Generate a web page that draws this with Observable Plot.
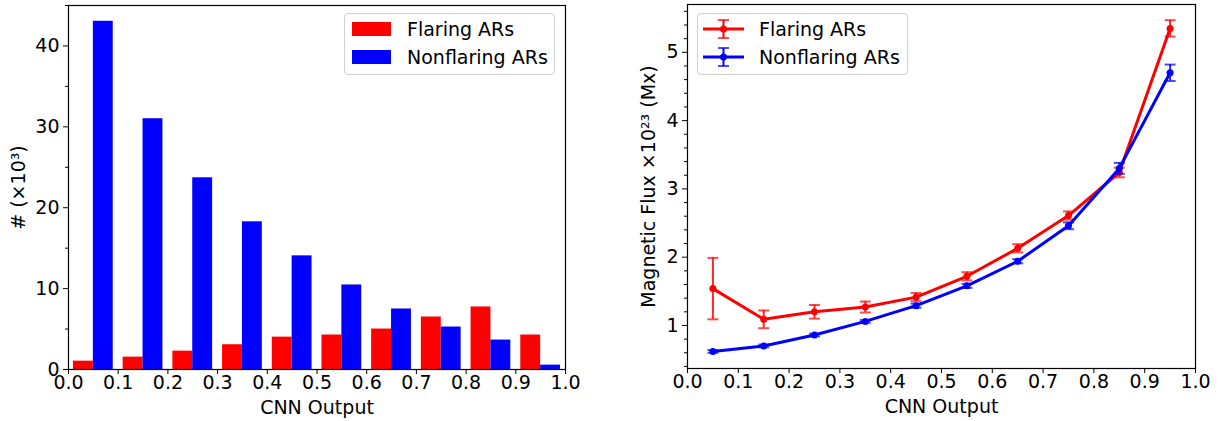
<!DOCTYPE html>
<html>
<head>
<meta charset="utf-8">
<script src="https://cdn.jsdelivr.net/npm/d3@7"></script>
<script src="https://cdn.jsdelivr.net/npm/@observablehq/plot@0.6"></script>
<style>
  body { margin: 0; background: white; font-family: "DejaVu Sans", sans-serif; }
  #wrap { position: relative; width: 1222px; height: 421px; display: flex; }
  .leg { position: absolute; border: 1px solid #d0d0d0; border-radius: 4px; background: rgba(255,255,255,0.8); box-sizing: border-box; }
  .lt { position: absolute; font-size: 19px; line-height: 19px; color: black; white-space: nowrap; }
  .patch { position: absolute; }
</style>
</head>
<body>
<div id="wrap"></div>
<script>
// ---- Data ----
const binStarts = [0.0, 0.1, 0.2, 0.3, 0.4, 0.5, 0.6, 0.7, 0.8, 0.9];
const flaringCounts = [1.03, 1.53, 2.27, 3.06, 4.0, 4.26, 5.0, 6.49, 7.73, 4.26];
const nonflaringCounts = [43.05, 31.0, 23.7, 18.26, 14.05, 10.45, 7.48, 5.25, 3.64, 0.54];

const binCenters = [0.05, 0.15, 0.25, 0.35, 0.45, 0.55, 0.65, 0.75, 0.85, 0.95];
const flaringFlux = [1.54, 1.09, 1.20, 1.27, 1.415, 1.72, 2.13, 2.61, 3.24, 5.35];
const flaringErr = [0.45, 0.13, 0.10, 0.08, 0.06, 0.06, 0.06, 0.06, 0.07, 0.12];
const nonflaringFlux = [0.62, 0.70, 0.86, 1.06, 1.29, 1.58, 1.94, 2.46, 3.30, 4.70];
const nonflaringErr = [0.02, 0.02, 0.02, 0.02, 0.03, 0.03, 0.03, 0.05, 0.08, 0.12];

const xTicks = [0.0, 0.1, 0.2, 0.3, 0.4, 0.5, 0.6, 0.7, 0.8, 0.9, 1.0];
const leftYTicks = [0, 10, 20, 30, 40];
const leftYMinor = [5, 15, 25, 35, 45];
const rightYTicks = [1, 2, 3, 4, 5];
const rightYMinor = [0.4, 0.6, 0.8, 1.2, 1.4, 1.6, 1.8, 2.2, 2.4, 2.6, 2.8, 3.2, 3.4, 3.6, 3.8, 4.2, 4.4, 4.6, 4.8, 5.2, 5.4, 5.6];

const RED = "#ff0000", BLUE = "#0000ff";
const FS = 19;
const FONT = {fontFamily: "DejaVu Sans", fontSize: FS + "px", color: "black", background: "white", overflow: "visible"};

// ---- Left: histogram ----
const hist = binStarts.map((b, i) => ({b, f: flaringCounts[i], n: nonflaringCounts[i]}));
const left = Plot.plot({
  width: 611, height: 421,
  marginLeft: 68, marginRight: 46, marginTop: 5, marginBottom: 52,
  style: FONT,
  x: {domain: [0, 1]},
  y: {domain: [0, 45]},
  marks: [
    Plot.rectY(hist, {x1: d => d.b + 0.01, x2: d => d.b + 0.05, y: "f", fill: RED}),
    Plot.rectY(hist, {x1: d => d.b + 0.05, x2: d => d.b + 0.09, y: "n", fill: BLUE}),
    Plot.axisX(xTicks, {tickFormat: d3.format(".1f"), tickSize: 5, tickPadding: 1, fontSize: FS, label: "CNN Output", labelAnchor: "center", labelArrow: "none", labelOffset: 44}),
    Plot.axisY(leftYTicks, {tickFormat: d3.format("d"), tickSize: 5, tickPadding: 4, fontSize: FS, label: "# (×10³)", labelAnchor: "center", labelArrow: "none", labelOffset: 57}),
    Plot.axisY(leftYMinor, {tickSize: 3, tickFormat: () => "", label: null}),
    Plot.frame({stroke: "black", strokeWidth: 1.2})
  ]
});

// ---- Right: flux with error bars ----
const fl = binCenters.map((x, i) => ({x, v: flaringFlux[i], e: flaringErr[i]}));
const nf = binCenters.map((x, i) => ({x, v: nonflaringFlux[i], e: nonflaringErr[i]}));
const capSymbol = {draw(ctx, size) { const r = Math.sqrt(size / Math.PI); ctx.moveTo(-r, 0); ctx.lineTo(r, 0); }};
function series(data, color) {
  return [
    Plot.line(data, {x: "x", y: "v", stroke: color, strokeWidth: 3}),
    Plot.ruleX(data, {x: "x", y1: d => d.v - d.e, y2: d => d.v + d.e, stroke: color, strokeWidth: 2, strokeOpacity: 0.85}),
    Plot.dot(data, {x: "x", y: d => d.v - d.e, symbol: capSymbol, r: 5.5, stroke: color, strokeWidth: 2, strokeOpacity: 0.7}),
    Plot.dot(data, {x: "x", y: d => d.v + d.e, symbol: capSymbol, r: 5.5, stroke: color, strokeWidth: 2, strokeOpacity: 0.7}),
    Plot.dot(data, {x: "x", y: "v", r: 3.5, fill: color})
  ];
}
const right = Plot.plot({
  width: 611, height: 421,
  marginLeft: 76, marginRight: 27, marginTop: 4, marginBottom: 53,
  style: FONT,
  x: {domain: [0, 1]},
  y: {domain: [0.37, 5.70]},
  marks: [
    ...series(fl, RED),
    ...series(nf, BLUE),
    Plot.axisX(xTicks, {tickFormat: d3.format(".1f"), tickSize: 5, tickPadding: 1, fontSize: FS, label: "CNN Output", labelAnchor: "center", labelArrow: "none", labelOffset: 44}),
    Plot.axisY(rightYTicks, {tickFormat: d3.format("d"), tickSize: 5, tickPadding: 4, fontSize: FS, label: "Magnetic Flux ×10²³ (Mx)", labelAnchor: "center", labelArrow: "none", labelOffset: 46}),
    Plot.axisY(rightYMinor, {tickSize: 3, tickFormat: () => "", label: null}),
    Plot.frame({stroke: "black", strokeWidth: 1.2})
  ]
});

const wrap = document.getElementById("wrap");
wrap.appendChild(left);
wrap.appendChild(right);

// ---- Legends (HTML overlay) ----
function el(cls, style, text) {
  const d = document.createElement("div");
  d.className = cls;
  Object.assign(d.style, style);
  if (text) d.textContent = text;
  wrap.appendChild(d);
  return d;
}
const names = ["Flaring ARs", "Nonflaring ARs"];
const colors = [RED, BLUE];
// left legend
el("leg", {left: "344px", top: "13px", width: "211px", height: "62px"});
names.forEach((n, i) => {
  el("patch", {left: "352px", top: (22 + i * 28) + "px", width: "39px", height: "14px", background: colors[i]});
  el("lt", {left: "407px", top: (19.5 + i * 28) + "px"}, n);
});
// right legend
el("leg", {left: "697px", top: "13px", width: "211px", height: "62px"});
names.forEach((n, i) => {
  const cy = 29 + i * 28;
  const s = document.createElementNS("http://www.w3.org/2000/svg", "svg");
  s.setAttribute("width", 44); s.setAttribute("height", 24);
  s.style.position = "absolute"; s.style.left = "702px"; s.style.top = (cy - 12) + "px";
  s.innerHTML = `<line x1="1" x2="42" y1="12" y2="12" stroke="${colors[i]}" stroke-width="3"/>
    <line x1="21.5" x2="21.5" y1="3" y2="21" stroke="${colors[i]}" stroke-width="2"/>
    <line x1="16" x2="27" y1="3" y2="3" stroke="${colors[i]}" stroke-width="2" stroke-opacity="0.7"/>
    <line x1="16" x2="27" y1="21" y2="21" stroke="${colors[i]}" stroke-width="2" stroke-opacity="0.7"/>
    <circle cx="21.5" cy="12" r="3.5" fill="${colors[i]}"/>`;
  wrap.appendChild(s);
  el("lt", {left: "759px", top: (cy - 9.5) + "px"}, n);
});
</script>
</body>
</html>
